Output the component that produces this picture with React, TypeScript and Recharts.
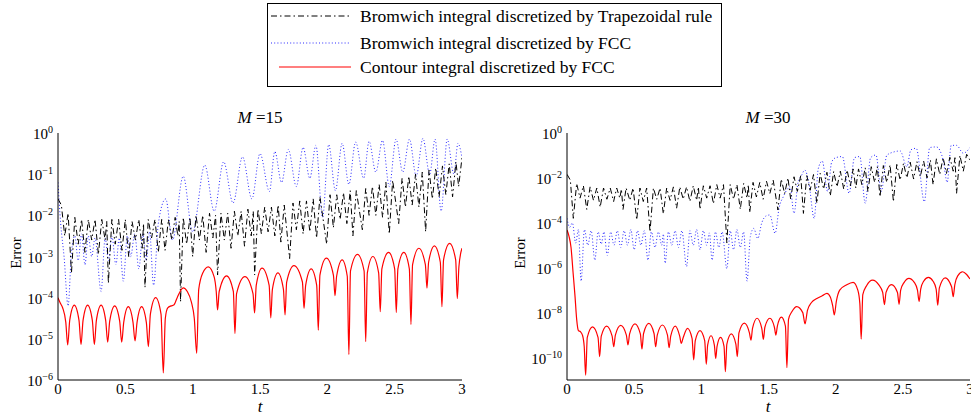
import React from "react";
import { LineChart, Line, XAxis, YAxis } from "recharts";

// each point is [t, log10(error)]
type Pt = [number, number];

const FONT = '"Liberation Serif", "Times New Roman", serif';

const tTicks = [0, 0.5, 1, 1.5, 2, 2.5, 3];
const majorM15 = [1e-6, 1e-5, 1e-4, 1e-3, 1e-2, 1e-1, 1];
const majorM30 = [1e-10, 1e-8, 1e-6, 1e-4, 1e-2, 1];
const legendLabels = [
  "Bromwich integral discretized by Trapezoidal rule",
  "Bromwich integral discretized by FCC",
  "Contour integral discretized by FCC",
];

const contourM15: Pt[] = [
  [0, -4.0], [0.015, -4.12], [0.035, -4.25], [0.058, -4.6], [0.072, -5.15],
  [0.087, -4.55], [0.121, -4.18], [0.156, -4.55], [0.171, -5.14],
  [0.186, -4.55], [0.22, -4.18], [0.255, -4.55], [0.27, -5.14],
  [0.285, -4.55], [0.32, -4.18], [0.354, -4.55], [0.369, -5.08],
  [0.384, -4.57], [0.421, -4.2], [0.458, -4.57], [0.473, -5.08],
  [0.488, -4.6], [0.522, -4.22], [0.557, -4.6], [0.572, -5.05],
  [0.587, -4.6], [0.621, -4.22], [0.656, -4.6], [0.671, -5.19],
  [0.686, -4.4], [0.725, -4.0], [0.765, -4.4], [0.782, -5.83],
  [0.797, -4.5], [0.815, -4.25], [0.84, -4.2], [0.86, -4.18], [0.885, -4.0], [0.93, -3.76],
  [0.96, -3.85], [0.99, -4.1], [1.012, -4.5], [1.03, -5.35],
  [1.045, -3.8], [1.075, -3.4], [1.116, -3.25], [1.16, -3.5], [1.175, -3.85], [1.185, -4.3],
  [1.197, -3.85], [1.252, -3.47], [1.302, -3.85], [1.314, -4.87],
  [1.326, -3.9], [1.388, -3.49], [1.448, -3.9], [1.46, -4.37],
  [1.472, -3.7], [1.515, -3.28], [1.568, -3.7], [1.58, -4.49],
  [1.592, -3.8], [1.633, -3.4], [1.674, -3.8], [1.686, -4.42],
  [1.698, -3.62], [1.752, -3.22], [1.815, -3.62], [1.827, -4.26],
  [1.839, -3.7], [1.88, -3.3], [1.921, -3.7], [1.933, -4.79],
  [1.945, -3.45], [1.993, -3.04], [2.045, -3.45], [2.057, -3.95],
  [2.069, -3.48], [2.11, -3.08], [2.148, -3.48], [2.16, -5.38],
  [2.172, -3.35], [2.224, -2.95], [2.273, -3.35], [2.285, -5.07],
  [2.297, -3.4], [2.338, -3.0], [2.381, -3.4], [2.393, -4.34],
  [2.405, -3.3], [2.455, -2.9], [2.5, -3.3], [2.512, -4.36],
  [2.524, -3.3], [2.568, -2.9], [2.609, -3.3], [2.621, -4.65],
  [2.633, -3.2], [2.68, -2.8], [2.728, -3.2], [2.74, -3.77],
  [2.752, -3.14], [2.795, -2.74], [2.839, -3.14], [2.851, -4.22],
  [2.863, -3.08], [2.908, -2.68], [2.953, -3.08], [2.965, -4.02],
  [2.977, -3.25], [3.0, -2.8],
];

const trapM15: Pt[] = [
  [0, -1.6], [0.025, -1.75], [0.05, -2.5], [0.075, -1.95], [0.1, -3.4], [0.125, -2.05],
  [0.15, -2.7], [0.175, -2.1], [0.2, -2.9], [0.225, -2.1], [0.25, -2.6], [0.275, -2.1],
  [0.3, -2.95], [0.325, -2.1], [0.35, -2.6], [0.362, -2.15], [0.374, -3.65], [0.4, -2.1],
  [0.425, -2.7], [0.45, -2.1], [0.475, -2.85], [0.5, -2.1], [0.525, -3.0], [0.55, -2.15],
  [0.575, -2.6], [0.6, -2.1], [0.625, -2.8], [0.635, -2.2], [0.646, -3.75], [0.67, -2.1],
  [0.695, -2.55], [0.72, -2.1], [0.745, -2.9], [0.77, -2.1], [0.795, -2.85], [0.82, -2.1],
  [0.845, -2.6], [0.87, -2.05], [0.89, -2.5], [0.9, -2.15], [0.91, -4.1], [0.93, -2.05],
  [0.955, -2.7], [0.98, -2.05], [1.0, -3.0], [1.025, -2.0], [1.05, -2.6], [1.075, -2.0],
  [1.1, -2.9], [1.125, -1.95], [1.15, -2.55], [1.17, -2.0], [1.185, -3.45], [1.21, -1.95],
  [1.235, -2.6], [1.26, -1.95], [1.285, -2.8], [1.31, -1.9], [1.335, -2.5], [1.36, -1.9],
  [1.385, -2.75], [1.41, -1.85], [1.435, -2.5], [1.45, -1.9], [1.46, -3.45], [1.485, -1.85],
  [1.51, -2.45], [1.535, -1.8], [1.56, -2.4], [1.585, -1.8], [1.61, -2.5], [1.635, -1.75],
  [1.655, -2.65], [1.68, -1.75], [1.72, -3.05], [1.745, -1.7], [1.77, -2.35], [1.795, -1.65],
  [1.82, -2.45], [1.845, -1.65], [1.87, -2.4], [1.895, -1.6], [1.92, -2.55], [1.945, -1.55],
  [1.995, -2.7], [2.02, -1.5], [2.045, -2.3], [2.07, -1.5], [2.095, -2.1], [2.12, -1.45],
  [2.145, -2.2], [2.17, -1.4], [2.19, -2.5], [2.215, -1.4], [2.26, -2.35], [2.285, -1.35],
  [2.31, -2.0], [2.335, -1.3], [2.36, -2.0], [2.385, -1.25], [2.41, -2.05], [2.435, -1.2],
  [2.46, -2.45], [2.485, -1.15], [2.53, -2.2], [2.555, -1.1], [2.58, -1.8], [2.605, -1.05],
  [2.63, -1.75], [2.655, -1.0], [2.68, -1.8], [2.705, -0.95], [2.73, -2.4], [2.755, -0.9],
  [2.78, -1.6], [2.805, -0.85], [2.83, -1.55], [2.855, -0.8], [2.88, -1.5], [2.905, -0.75],
  [2.93, -1.55], [2.955, -0.7], [2.975, -1.3], [3.0, -0.6],
];

const fccM15: Pt[] = [
  [0, -1.2], [0.02, -2.2], [0.045, -3.0], [0.075, -4.2], [0.1, -2.9], [0.125, -2.5],
  [0.15, -3.1], [0.175, -2.45], [0.2, -3.2], [0.225, -2.5], [0.25, -3.0], [0.275, -2.55],
  [0.32, -3.85], [0.35, -2.55], [0.375, -3.1], [0.4, -2.5], [0.43, -3.2], [0.455, -2.55],
  [0.485, -3.6], [0.515, -2.5], [0.54, -3.0], [0.57, -2.45], [0.6, -3.3], [0.63, -2.45],
  [0.655, -3.1], [0.68, -2.4], [0.71, -3.7], [0.745, -2.2], [0.8, -1.6], [0.85, -2.6],
  [0.93, -1.05], [1.0, -2.4], [1.09, -0.78], [1.16, -1.9], [1.23, -0.7], [1.3, -1.7],
  [1.37, -0.58], [1.44, -1.6], [1.5, -0.5], [1.57, -1.42], [1.61, -0.45], [1.66, -1.2],
  [1.71, -0.4], [1.77, -1.3], [1.82, -0.35], [1.87, -1.1], [1.915, -0.3], [1.965, -2.05],
  [2.01, -0.28], [2.06, -1.4], [2.11, -0.25], [2.16, -1.25], [2.21, -0.22], [2.27, -1.1],
  [2.31, -0.2], [2.36, -0.95], [2.41, -0.18], [2.46, -1.3], [2.51, -0.15], [2.56, -0.95],
  [2.61, -0.15], [2.66, -1.05], [2.71, -0.13], [2.76, -1.0], [2.8, -0.15], [2.845, -1.9],
  [2.89, -0.15], [2.94, -1.0], [2.97, -0.25], [3.0, -0.6],
];

const contourM30: Pt[] = [
  [0, -4.32], [0.015, -4.6], [0.03, -5.1], [0.045, -6.2], [0.06, -7.3], [0.072, -8.3],
  [0.085, -8.8], [0.1, -8.85], [0.115, -9.0], [0.128, -9.5], [0.139, -10.78],
  [0.151, -9.1], [0.19, -8.63], [0.231, -9.1], [0.243, -9.96],
  [0.255, -9.05], [0.295, -8.6], [0.336, -9.05], [0.348, -9.52],
  [0.36, -9.0], [0.4, -8.57], [0.442, -9.0], [0.454, -9.44],
  [0.466, -8.95], [0.506, -8.5], [0.546, -8.95], [0.558, -9.62],
  [0.57, -8.93], [0.609, -8.48], [0.648, -8.93], [0.66, -9.52],
  [0.672, -9.0], [0.71, -8.55], [0.748, -9.0], [0.76, -9.56],
  [0.772, -9.05], [0.806, -8.6], [0.839, -9.05], [0.851, -9.37],
  [0.863, -9.15], [0.897, -8.7], [0.931, -9.15], [0.943, -10.1],
  [0.955, -9.25], [0.99, -8.8], [1.025, -9.25], [1.037, -10.3],
  [1.047, -9.45], [1.072, -9.03], [1.097, -9.45], [1.107, -10.04],
  [1.117, -9.5], [1.143, -9.1], [1.169, -9.5], [1.179, -10.63],
  [1.19, -9.4], [1.223, -8.95], [1.257, -9.4], [1.268, -9.96],
  [1.28, -8.9], [1.32, -8.47], [1.358, -8.9], [1.37, -9.22],
  [1.381, -8.7], [1.415, -8.25], [1.45, -8.7], [1.462, -9.19],
  [1.473, -8.65], [1.51, -8.25], [1.544, -8.65], [1.555, -9.0],
  [1.566, -8.6], [1.596, -8.2], [1.626, -8.6], [1.637, -10.45],
  [1.649, -8.3], [1.675, -7.95], [1.71, -7.73], [1.755, -8.0], [1.772, -8.5],
  [1.79, -7.9], [1.82, -7.55], [1.86, -7.37], [1.9, -7.25], [1.935, -7.14], [1.96, -7.3],
  [1.978, -7.7], [1.99, -8.1],
  [2.005, -7.5], [2.03, -7.0], [2.08, -6.77], [2.13, -6.65], [2.165, -7.0], [2.18, -7.6], [2.19, -9.18],
  [2.202, -7.2], [2.23, -6.8], [2.275, -6.55], [2.32, -6.75], [2.35, -7.1], [2.363, -7.64],
  [2.375, -7.1], [2.415, -6.75], [2.46, -7.1], [2.472, -7.63],
  [2.484, -7.0], [2.51, -6.65], [2.545, -6.47], [2.585, -6.65], [2.609, -7.0], [2.621, -7.5],
  [2.633, -6.95], [2.655, -6.6], [2.69, -6.43], [2.725, -6.6], [2.748, -6.95], [2.76, -7.67],
  [2.772, -6.9], [2.815, -6.45], [2.863, -6.85], [2.875, -7.29],
  [2.887, -6.75], [2.91, -6.35], [2.945, -6.18], [2.975, -6.3], [3.0, -6.5],
];

const trapM30: Pt[] = [
  [0, -1.84], [0.025, -2.1], [0.047, -3.8], [0.072, -2.25], [0.097, -2.9], [0.122, -2.35],
  [0.147, -3.4], [0.172, -2.4], [0.197, -3.0], [0.222, -2.45], [0.247, -3.3], [0.272, -2.45],
  [0.297, -2.95], [0.322, -2.45], [0.347, -3.05], [0.37, -2.45], [0.393, -2.9], [0.405, -2.5],
  [0.417, -3.4], [0.44, -2.45], [0.468, -3.0], [0.492, -2.45], [0.519, -3.87], [0.543, -2.45],
  [0.568, -3.05], [0.593, -2.45], [0.618, -4.4], [0.643, -2.45], [0.668, -2.95], [0.693, -2.45],
  [0.717, -3.6], [0.742, -2.45], [0.767, -3.0], [0.792, -2.4], [0.816, -3.35], [0.84, -2.4],
  [0.865, -2.95], [0.89, -2.4], [0.915, -3.05], [0.94, -2.35], [0.965, -3.0], [0.978, -2.4],
  [0.99, -3.4], [1.015, -2.35], [1.04, -2.9], [1.065, -2.35], [1.09, -3.15], [1.115, -2.3],
  [1.14, -2.9], [1.165, -2.3], [1.19, -4.9], [1.215, -2.3], [1.24, -2.95], [1.265, -2.3],
  [1.29, -3.4], [1.315, -2.25], [1.34, -2.9], [1.35, -2.3], [1.36, -3.55], [1.385, -2.2],
  [1.41, -2.85], [1.435, -2.2], [1.46, -2.95], [1.485, -2.15], [1.51, -2.7], [1.535, -2.1],
  [1.57, -3.43], [1.595, -2.05], [1.62, -2.7], [1.645, -2.0], [1.665, -2.95], [1.69, -1.95],
  [1.715, -2.6], [1.74, -1.9], [1.76, -3.58], [1.785, -1.9], [1.81, -2.55], [1.835, -1.85],
  [1.86, -3.13], [1.885, -1.8], [1.91, -2.5], [1.935, -1.75], [1.96, -2.8], [1.985, -1.72],
  [2.01, -2.4], [2.035, -1.7], [2.06, -2.5], [2.085, -1.65], [2.11, -2.35], [2.13, -1.6],
  [2.15, -2.45], [2.17, -1.6], [2.195, -2.3], [2.22, -1.55], [2.24, -2.61], [2.265, -1.5],
  [2.29, -2.2], [2.31, -1.5], [2.33, -2.84], [2.355, -1.45], [2.38, -2.2], [2.405, -1.42],
  [2.43, -3.06], [2.455, -1.4], [2.48, -2.1], [2.505, -1.35], [2.53, -2.0], [2.555, -1.3],
  [2.58, -2.05], [2.605, -1.28], [2.63, -1.95], [2.655, -1.25], [2.68, -2.0], [2.705, -1.2],
  [2.725, -2.3], [2.75, -1.15], [2.775, -1.85], [2.8, -1.1], [2.825, -1.8], [2.85, -1.08],
  [2.875, -1.7], [2.888, -1.1], [2.9, -2.69], [2.925, -1.0], [2.95, -1.7], [2.975, -0.95],
  [3.0, -1.2],
];

const fccM30: Pt[] = [
  [0, -3.8], [0.02, -4.2], [0.04, -4.0], [0.065, -4.9], [0.085, -4.3], [0.105, -6.6],
  [0.13, -4.3], [0.155, -5.0], [0.18, -4.35], [0.207, -5.66], [0.232, -4.4], [0.255, -4.95],
  [0.275, -4.4], [0.3, -5.45], [0.325, -4.4], [0.35, -5.0], [0.375, -4.35], [0.4, -5.1],
  [0.425, -4.35], [0.45, -5.0], [0.475, -4.3], [0.5, -5.2], [0.525, -4.35], [0.55, -5.0],
  [0.575, -4.35], [0.603, -5.66], [0.628, -4.4], [0.655, -5.1], [0.68, -4.4], [0.705, -5.0],
  [0.718, -4.5], [0.73, -5.8], [0.755, -4.4], [0.78, -5.0], [0.805, -4.35], [0.83, -5.1],
  [0.855, -4.35], [0.89, -5.95], [0.915, -4.35], [0.94, -5.0], [0.965, -4.3], [0.99, -5.2],
  [1.015, -4.35], [1.04, -5.0], [1.06, -4.45], [1.08, -5.66], [1.105, -4.4], [1.13, -5.1],
  [1.155, -4.4], [1.19, -6.05], [1.215, -4.35], [1.24, -5.2], [1.265, -4.3], [1.29, -5.1],
  [1.315, -4.4], [1.34, -6.6], [1.365, -4.6], [1.39, -4.25], [1.42, -4.7], [1.45, -4.0],
  [1.48, -3.7], [1.51, -3.65], [1.549, -4.47], [1.58, -3.3], [1.61, -2.84], [1.64, -2.5],
  [1.66, -2.39], [1.69, -3.58], [1.72, -2.2], [1.745, -1.9], [1.77, -1.65], [1.8, -2.2],
  [1.84, -3.8], [1.87, -1.6], [1.9, -1.25], [1.94, -2.6], [1.97, -1.3], [2.0, -1.1],
  [2.05, -1.05], [2.1, -2.69], [2.14, -1.1], [2.18, -1.05], [2.22, -3.13], [2.26, -1.1],
  [2.3, -0.98], [2.34, -2.6], [2.38, -1.0], [2.43, -0.85], [2.48, -0.8], [2.53, -1.5],
  [2.56, -0.75], [2.6, -0.68], [2.66, -3.06], [2.7, -0.65], [2.75, -0.62], [2.8, -1.2],
  [2.83, -2.2], [2.86, -0.55], [2.9, -0.55], [2.95, -0.9], [3.0, -0.65],
];

const toRows = (pts: Pt[]) => pts.map(([t, p]) => ({ t, e: Math.pow(10, p) }));

// minor log ticks 2..9 x 10^k
function minorTicks(lo: number, hi: number) {
  const out: number[] = [];
  for (let k = lo; k < hi; k++) {
    for (let m = 2; m <= 9; m++) out.push(m * Math.pow(10, k));
  }
  return out;
}

const RED = "#ff0000";
const BLUE = "#2a2aff";
const DASHDOT = "6 3 1.5 3";
const DOTTED = "1 2.2";

function PowTick(props: any) {
  const { x, y, payload } = props;
  const p = Math.round(Math.log10(payload.value));
  return (
    <text x={x} y={y} dy="0.4em" textAnchor="end" fontFamily={FONT} fontSize={15} fill="#000">
      10
      <tspan dy="-0.6em" fontSize={10}>
        {p === 0 ? "0" : "\u2212" + Math.abs(p)}
      </tspan>
    </text>
  );
}

interface PanelProps {
  left: number;
  width: number;
  marginLeft: number;
  marginRight: number;
  yDomain: [number, number];
  major: number[];
  minor: number[];
  trap: Pt[];
  fcc: Pt[];
  contour: Pt[];
}

function Panel({ left, width, marginLeft, marginRight, yDomain, major, minor, trap, fcc, contour }: PanelProps) {
  const axisStroke = { stroke: "#000", strokeWidth: 1 };
  return (
    <div style={{ position: "absolute", left, top: 0 }}>
      <LineChart
        width={width}
        height={416}
        margin={{ top: 133, right: marginRight, bottom: 6, left: marginLeft }}
      >
        <XAxis
          xAxisId="b"
          dataKey="t"
          type="number"
          domain={[0, 3]}
          ticks={tTicks}
          interval={0}
          allowDataOverflow
          tickLine={false}
          tickSize={0}
          tickMargin={3}
          axisLine={axisStroke}
          tick={{ fontSize: 15, fill: "#000", fontFamily: FONT }}
        />
        <XAxis
          xAxisId="bm"
          type="number"
          orientation="bottom"
          mirror
          height={0}
          domain={[0, 3]}
          ticks={tTicks}
          interval={0}
          allowDataOverflow
          tick={false}
          tickSize={4}
          tickLine={axisStroke}
          axisLine={false}
        />
        <XAxis
          xAxisId="tm"
          type="number"
          orientation="top"
          mirror
          height={0}
          domain={[0, 3]}
          ticks={tTicks}
          interval={0}
          allowDataOverflow
          tick={false}
          tickSize={4}
          tickLine={axisStroke}
          axisLine={axisStroke}
        />
        <YAxis
          yAxisId="l"
          type="number"
          scale="log"
          domain={yDomain}
          ticks={major}
          interval={0}
          allowDataOverflow
          width={50}
          tickLine={false}
          tickSize={0}
          tickMargin={5}
          axisLine={axisStroke}
          tick={<PowTick />}
        />
        <YAxis
          yAxisId="lm"
          type="number"
          scale="log"
          mirror
          width={0}
          domain={yDomain}
          ticks={major}
          interval={0}
          allowDataOverflow
          tick={false}
          tickSize={4}
          tickLine={axisStroke}
          axisLine={false}
        />
        <YAxis
          yAxisId="ln"
          type="number"
          scale="log"
          mirror
          width={0}
          domain={yDomain}
          ticks={minor}
          interval={0}
          allowDataOverflow
          tick={false}
          tickSize={2}
          tickLine={axisStroke}
          axisLine={false}
        />
        <YAxis
          yAxisId="rm"
          type="number"
          scale="log"
          orientation="right"
          mirror
          width={0}
          domain={yDomain}
          ticks={major}
          interval={0}
          allowDataOverflow
          tick={false}
          tickSize={4}
          tickLine={axisStroke}
          axisLine={axisStroke}
        />
        <YAxis
          yAxisId="rn"
          type="number"
          scale="log"
          orientation="right"
          mirror
          width={0}
          domain={yDomain}
          ticks={minor}
          interval={0}
          allowDataOverflow
          tick={false}
          tickSize={2}
          tickLine={axisStroke}
          axisLine={false}
        />
        <Line
          xAxisId="b"
          yAxisId="l"
          data={toRows(fcc)}
          dataKey="e"
          type="monotone"
          stroke={BLUE}
          strokeWidth={1}
          strokeDasharray={DOTTED}
          dot={false}
          activeDot={false}
          isAnimationActive={false}
        />
        <Line
          xAxisId="b"
          yAxisId="l"
          data={toRows(trap)}
          dataKey="e"
          type="linear"
          stroke="#000"
          strokeWidth={1}
          strokeDasharray={DASHDOT}
          dot={false}
          activeDot={false}
          isAnimationActive={false}
        />
        <Line
          xAxisId="b"
          yAxisId="l"
          data={toRows(contour)}
          dataKey="e"
          type="monotone"
          stroke={RED}
          strokeWidth={1.2}
          dot={false}
          activeDot={false}
          isAnimationActive={false}
        />
      </LineChart>
    </div>
  );
}

const txt: React.CSSProperties = {
  position: "absolute",
  fontFamily: FONT,
  color: "#000",
  whiteSpace: "nowrap",
};

function Title({ cx, value }: { cx: number; value: string }) {
  return (
    <div style={{ ...txt, left: cx - 60, width: 120, top: 108, fontSize: 17, lineHeight: "20px", textAlign: "center" }}>
      <i>M</i>&nbsp;={value}
    </div>
  );
}

function ErrorLabel({ cx }: { cx: number }) {
  return (
    <div
      style={{
        ...txt,
        left: cx - 30,
        top: 243,
        width: 60,
        fontSize: 15,
        lineHeight: "20px",
        textAlign: "center",
        transform: "rotate(-90deg)",
      }}
    >
      Error
    </div>
  );
}

function TLabel({ cx }: { cx: number }) {
  return (
    <div style={{ ...txt, left: cx - 10, width: 20, top: 399, fontSize: 17, lineHeight: "16px", textAlign: "center" }}>
      <i>t</i>
    </div>
  );
}

function Legend() {
  const rows = [
    { y: 12, stroke: "#000", dash: DASHDOT, w: 1, x1: 3, x2: 83 },
    { y: 39, stroke: BLUE, dash: DOTTED, w: 1, x1: 3, x2: 83 },
    { y: 63, stroke: RED, dash: undefined, w: 1.2, x1: 11, x2: 83 },
  ];
  return (
    <div
      style={{
        position: "absolute",
        left: 267,
        top: 3,
        width: 455,
        height: 84,
        border: "1px solid #000",
        boxSizing: "border-box",
        background: "#fff",
      }}
    >
      <svg width={90} height={80} style={{ position: "absolute", left: 0, top: 0 }}>
        {rows.map((r, i) => (
          <line
            key={i}
            x1={r.x1}
            x2={r.x2}
            y1={r.y}
            y2={r.y}
            stroke={r.stroke}
            strokeWidth={r.w}
            strokeDasharray={r.dash}
          />
        ))}
      </svg>
      {legendLabels.map((label, i) => (
        <div key={label} style={{ ...txt, left: 92, top: rows[i].y - 11, fontSize: 17.5, lineHeight: "22px" }}>
          {label}
        </div>
      ))}
    </div>
  );
}

export default function App() {
  return (
    <div style={{ position: "absolute", left: 0, top: 0, width: 971, height: 416, background: "#fff" }}>
      <Panel
        left={0}
        width={490}
        marginLeft={8}
        marginRight={28}
        yDomain={[1e-6, 1]}
        major={majorM15}
        minor={minorTicks(-6, 0)}
        trap={trapM15}
        fcc={fccM15}
        contour={contourM15}
      />
      <Panel
        left={480}
        width={491}
        marginLeft={37}
        marginRight={1}
        yDomain={[1e-11, 1]}
        major={majorM30}
        minor={[]}
        trap={trapM30}
        fcc={fccM30}
        contour={contourM30}
      />
      <Title cx={260} value="15" />
      <Title cx={768} value="30" />
      <ErrorLabel cx={16} />
      <ErrorLabel cx={520} />
      <TLabel cx={260} />
      <TLabel cx={768} />
      <Legend />
    </div>
  );
}
